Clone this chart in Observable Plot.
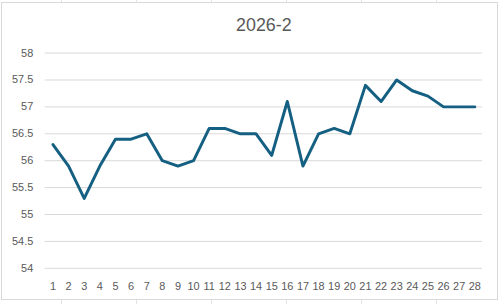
<!DOCTYPE html>
<html>
<head>
<meta charset="utf-8">
<script src="https://cdn.jsdelivr.net/npm/d3@7"></script>
<script src="https://cdn.jsdelivr.net/npm/@observablehq/plot@0.6"></script>
<style>
  html, body { margin: 0; padding: 0; }
  body {
    width: 500px; height: 304px; overflow: hidden; position: relative;
    background: #fff repeating-linear-gradient(to right, transparent 0 61px, #e3e3e3 61px 62px, transparent 62px 75px);
    background-position: 0 0;
    font-family: "Liberation Sans", Arial, sans-serif;
  }
  #frame {
    position: absolute; left: 1px; top: 2px; width: 495px; height: 296px;
    border: 1px solid #d9d9d9; background: #fff;
  }
  #chart { position: absolute; left: -1px; top: -3px; }
</style>
</head>
<body>
<div id="frame"><div id="chart"></div></div>
<script>
const title = "2026-2";
const days = [1,2,3,4,5,6,7,8,9,10,11,12,13,14,15,16,17,18,19,20,21,22,23,24,25,26,27,28];
const values = [56.3,55.9,55.3,55.9,56.4,56.4,56.5,56.0,55.9,56.0,56.6,56.6,56.5,56.5,56.1,57.1,55.9,56.5,56.6,56.5,57.4,57.1,57.5,57.3,57.2,57.0,57.0,57.0];
const yTicks = [54,54.5,55,55.5,56,56.5,57,57.5,58];

const data = days.map((d, i) => ({day: d, value: values[i]}));

const chart = Plot.plot({
  width: 500,
  height: 304,
  marginLeft: 44,
  marginRight: 15,
  marginTop: 53,
  marginBottom: 34,
  style: {fontFamily: "'Liberation Sans', Arial, sans-serif", fontSize: "11px", color: "#595959", background: "transparent", overflow: "visible"},
  x: {type: "point", domain: days, padding: 0.5, round: false},
  y: {domain: [54, 58]},
  marks: [
    Plot.gridY(yTicks, {stroke: "#d9d9d9", strokeOpacity: 1, strokeWidth: 1}),
    Plot.axisY(yTicks, {tickSize: 0, tickPadding: 12, label: null, tickFormat: d => String(d), fill: "#595959"}),
    Plot.axisX(days, {tickSize: 0, tickPadding: 14, label: null, fill: "#595959"}),
    Plot.lineY(data, {x: "day", y: "value", stroke: "#156082", strokeWidth: 3, strokeLinejoin: "round", strokeLinecap: "round"}),
    Plot.text([title], {frameAnchor: "top", lineAnchor: "middle", dy: -28, fontSize: 18, fill: "#595959", text: d => d})
  ]
});
document.getElementById("chart").appendChild(chart);
</script>
</body>
</html>
